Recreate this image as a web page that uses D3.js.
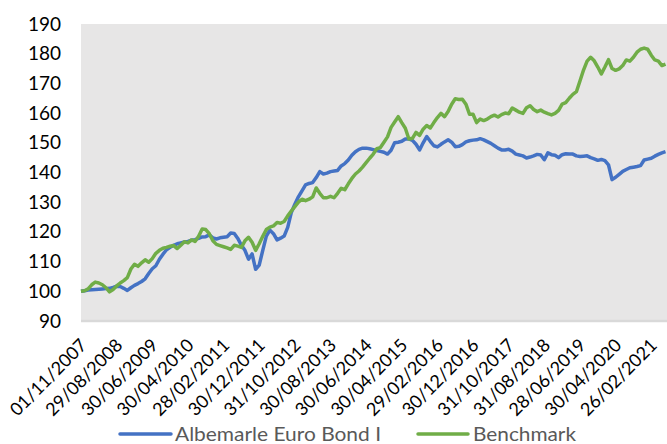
<!DOCTYPE html>
<html><head><meta charset="utf-8">
<script src="https://cdn.jsdelivr.net/npm/d3@7"></script>
<style>html,body{margin:0;padding:0;background:#fff;}svg{display:block;}</style>
</head><body>
<svg id="chart" width="667" height="444"></svg>
<script>
const tickLabels = ["01/11/2007","29/08/2008","30/06/2009","30/04/2010","28/02/2011","30/12/2011","31/10/2012","30/08/2013","30/06/2014","30/04/2015","29/02/2016","30/12/2016","31/10/2017","31/08/2018","28/06/2019","30/04/2020","26/02/2021"];
const tickIndex = [0,10,20,30,40,50,60,70,80,90,100,110,120,130,140,150,160];
const yTicks = [90,100,110,120,130,140,150,160,170,180,190];
const seriesNames = ["Albemarle Euro Bond I","Benchmark"];
const fund = [
100.0,100.2,100.4,100.5,100.6,100.7,100.8,100.9,101.0,101.3,
101.7,101.6,101.0,100.3,101.2,102.0,102.6,103.3,104.2,106.0,
107.6,108.6,110.8,112.5,114.0,114.8,115.5,116.0,116.3,116.6,
116.8,117.2,117.4,117.8,118.3,118.4,119.0,118.0,117.6,118.0,
118.2,118.4,119.6,119.5,117.8,115.5,113.8,110.8,112.6,107.4,
108.8,113.8,118.6,120.6,119.4,117.3,117.9,118.6,121.5,126.5,
129.3,131.8,133.8,135.8,136.3,136.6,138.3,140.3,139.5,139.8,
140.3,140.5,140.7,142.2,143.0,144.2,145.8,147.0,147.8,148.2,
148.2,148.0,147.7,147.4,147.1,146.8,146.2,147.5,150.0,150.2,
150.5,151.3,151.3,150.8,149.5,147.6,150.0,152.1,150.5,149.0,
148.6,149.5,150.3,151.0,150.2,148.7,148.8,149.4,150.3,150.7,
150.9,151.0,151.4,151.0,150.4,149.8,149.0,148.2,147.6,147.6,
147.8,147.2,146.2,145.9,145.6,144.9,145.2,145.6,146.1,145.9,
144.3,146.6,146.0,145.8,145.0,146.0,146.3,146.2,146.2,145.6,
145.4,145.5,145.6,145.0,144.6,144.1,144.4,144.0,142.6,137.6,
138.4,139.4,140.4,141.0,141.6,141.8,142.0,142.3,144.2,144.5,
144.8,145.5,146.1,146.6,147.0];
const bench = [
100.0,100.2,100.8,102.2,103.1,102.8,102.2,101.2,99.8,100.6,
101.8,102.8,103.6,104.6,107.5,109.1,108.4,109.6,110.6,109.8,
111.0,112.8,113.8,114.5,114.8,115.2,115.4,114.4,115.5,116.7,
116.3,117.3,116.8,118.5,121.0,120.8,119.4,117.0,115.8,115.4,
115.0,114.6,114.1,115.5,115.2,114.8,117.0,118.2,116.5,113.8,
116.0,118.5,120.8,121.6,122.0,123.2,122.9,123.5,125.4,127.0,
128.5,130.0,131.0,130.5,131.0,131.8,134.8,133.0,131.5,131.5,
132.0,131.5,133.0,134.7,134.2,136.2,138.0,139.5,140.5,141.8,
143.3,144.8,146.2,148.0,148.4,150.2,152.0,155.2,157.0,158.8,
156.8,154.9,151.3,151.5,153.5,152.5,154.6,155.8,155.0,156.8,
158.5,159.9,158.8,160.5,163.0,164.8,164.6,164.7,163.0,159.6,
159.6,156.8,158.0,157.5,158.0,158.8,159.3,158.7,159.5,160.0,
159.8,161.7,161.0,160.3,159.9,161.8,162.5,161.2,160.5,161.0,
160.3,159.8,159.4,159.9,160.9,163.0,163.5,165.0,166.3,167.2,
170.8,174.5,177.5,178.8,177.6,175.5,173.2,175.5,178.0,175.0,
174.4,174.9,176.0,177.9,177.5,178.8,180.5,181.5,181.9,181.5,
179.5,177.9,177.5,176.0,176.5];

const svg = d3.select("#chart");
const plot = {left: 81, right: 667, top: 24, bottom: 321};
const x = d3.scaleLinear().domain([0, fund.length - 1]).range([plot.left, 665.5]);
const y = d3.scaleLinear().domain([90, 190]).range([plot.bottom, plot.top]);
const FONT = "Lato, 'Open Sans', sans-serif";

svg.append("rect").attr("x", plot.left).attr("y", plot.top)
  .attr("width", plot.right - plot.left).attr("height", plot.bottom - plot.top)
  .attr("fill", "#e7e6e6");

// y axis
const yAxis = svg.append("g").attr("transform", `translate(${plot.left},0)`)
  .call(d3.axisLeft(y).tickValues(yTicks).tickSize(0).tickPadding(20));
yAxis.select(".domain").remove();
yAxis.selectAll("text").attr("font-family", FONT).attr("font-size", 19).attr("fill", "#000");

// x axis
const xAxis = svg.append("g").attr("transform", `translate(0,${plot.bottom})`)
  .call(d3.axisBottom(x).tickValues(tickIndex).tickSize(0).tickFormat((d, i) => tickLabels[i]));
xAxis.select(".domain").attr("stroke", "#d9d9d9").attr("stroke-width", 2.5)
  .attr("d", `M${plot.left},0H${plot.right}`);
xAxis.selectAll(".tick text")
  .attr("font-family", FONT).attr("font-size", 18).attr("fill", "#000")
  .attr("text-anchor", "end").attr("x", 0).attr("y", 0).attr("dy", "0.35em")
  .attr("transform", "translate(2,21) rotate(-45)");

// lines
const line = d3.line().x((d, i) => x(i)).y(d => y(d));
svg.append("path").datum(fund).attr("d", line).attr("fill", "none")
  .attr("stroke", "#4472c4").attr("stroke-width", 3.5).attr("stroke-linejoin", "round");
svg.append("path").datum(bench).attr("d", line).attr("fill", "none")
  .attr("stroke", "#70ad47").attr("stroke-width", 3.5).attr("stroke-linejoin", "round");

// legend
const legend = [
  {name: seriesNames[0], color: "#4472c4", x1: 120, x2: 171, tx: 175, w: 206},
  {name: seriesNames[1], color: "#70ad47", x1: 418, x2: 468, tx: 473, w: 103}
];
const lg = svg.append("g");
legend.forEach(l => {
  lg.append("line").attr("x1", l.x1).attr("x2", l.x2).attr("y1", 434).attr("y2", 434)
    .attr("stroke", l.color).attr("stroke-width", 3.5).attr("stroke-linecap", "round");
  lg.append("text").attr("x", l.tx).attr("y", 434).attr("dy", "0.36em")
    .attr("font-family", FONT).attr("font-size", 20).attr("fill", "#595959")
    .attr("textLength", l.w).attr("lengthAdjust", "spacingAndGlyphs").text(l.name);
});
</script>
</body></html>
